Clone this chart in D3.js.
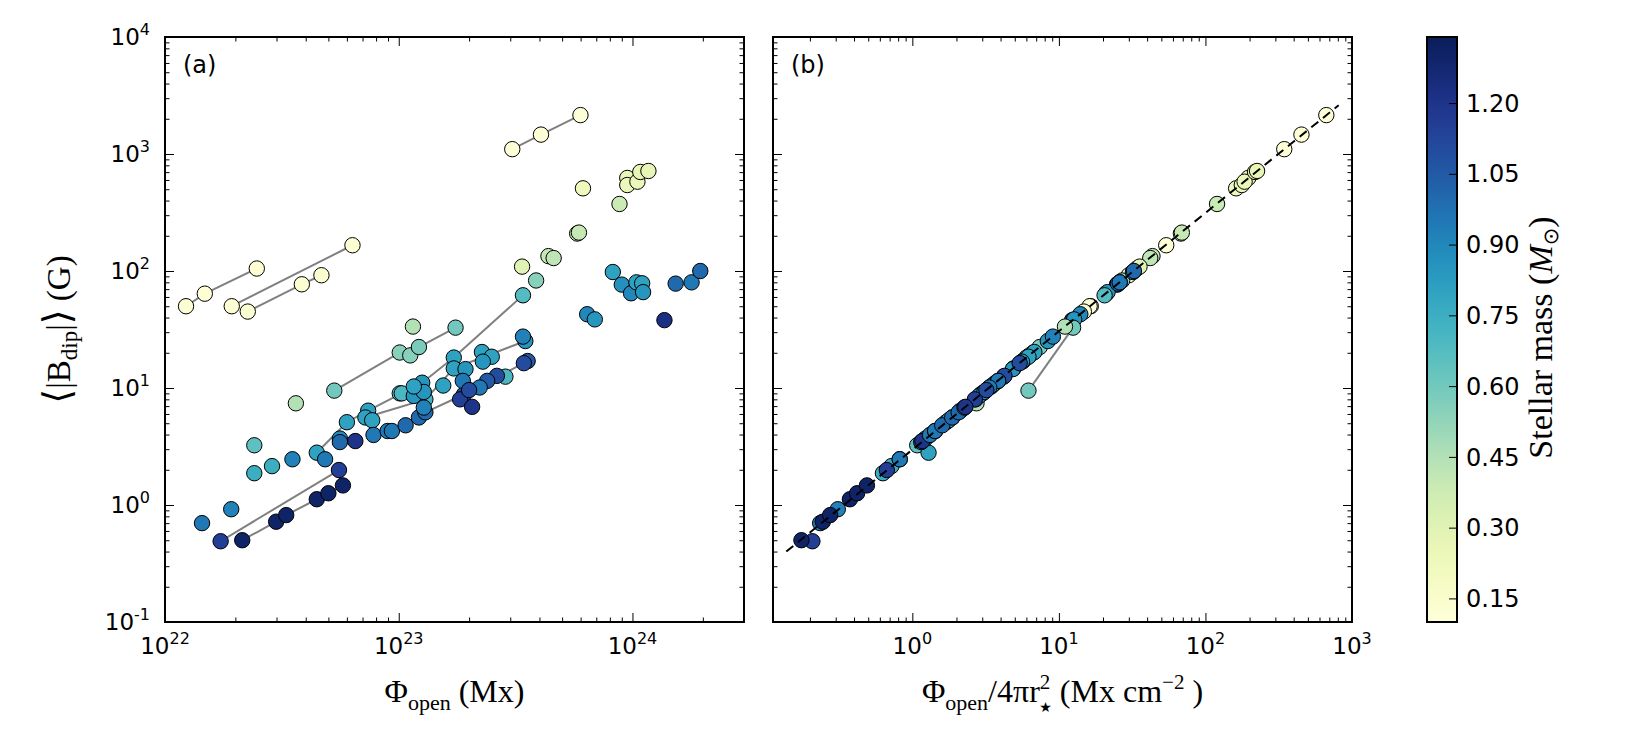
<!DOCTYPE html>
<html>
<head>
<meta charset="utf-8">
<script src="https://cdn.jsdelivr.net/npm/d3@7"></script>
<style>
  body { margin: 0; background: #fff; }
  .tick line { stroke: #000; stroke-width: 1; }
</style>
</head>
<body>
<div id="container"></div>
<script>
/* DATA */
// open flux (Mx), panel (a) x
const phiOpen = [
  1.23e22, 1.48e22, 2.47e22, 1.93e22, 6.34e22, 2.26e22, 3.85e22, 4.67e22, 3.06e23, 4.06e23,
  5.99e23, 6.14e23, 9.5e23, 9.5e23, 1.05e24, 1.08e24, 1.17e24, 8.8e23, 5.8e23, 5.9e23,
  4.37e23, 4.6e23, 3.37e23, 3.87e23, 8.24e23, 9.0e23, 9.86e23, 1.04e24, 1.1e24, 1.11e24,
  1.53e24, 1.79e24, 1.95e24, 1.37e24, 6.4e23, 6.9e23, 5.3e22, 1.01e23, 1.12e23, 1.22e23,
  1.75e23, 1.15e23, 3.63e22, 2.41e22, 2.41e22, 2.87e22, 3.51e22, 1.44e22, 1.92e22, 1.73e22,
  5.55e22, 2.14e22, 2.99e22, 3.3e22, 4.46e22, 5.0e22, 5.77e22, 4.46e22, 6.0e22, 7.4e22,
  1.26e23, 1.72e23, 3.4e23, 4.84e22, 5.6e22, 5.6e22, 6.52e22, 7.2e22, 1.3e23, 1.72e23,
  3.48e23, 7.7e22, 7.8e22, 8.96e22, 9.35e22, 1.07e23, 1.22e23, 1.3e23, 1.9e23, 3.56e23,
  1.01e23, 1.03e23, 1.16e23, 1.28e23, 1.16e23, 1.28e23, 1.55e23, 1.93e23, 2.27e23, 2.5e23,
  2.29e23, 2.86e23, 2.63e23, 2.39e23, 1.88e23, 2.22e23, 1.83e23, 2.0e23, 2.06e23, 3.4e23,
  3.43e23
]
// <|B_dip|> (G), shared y
const bDip = [
  50, 64, 105, 50, 166, 45, 77, 92, 1100, 1465,
  2150, 509, 624, 543, 580, 702, 716, 374, 209, 213,
  134, 129, 109, 83, 98, 76.5, 64.5, 80, 78.5, 66,
  78, 80, 100, 38, 42.7, 38.6, 9.5, 20.1, 19, 22.4,
  32.8, 33.5, 7.4, 3.24, 1.87, 2.15, 2.46, 0.70, 0.92, 0.49,
  1.99, 0.50, 0.72, 0.82, 1.12, 1.26, 1.47, 2.8, 5.1, 6.4,
  11.1, 18.2, 62, 2.46, 3.7, 3.45, 3.52, 5.6, 8.0, 14.7,
  25.2, 5.3, 3.97, 4.29, 4.29, 4.8, 5.6, 6.2, 8.8, 17,
  9.0, 9.0, 8.55, 9.25, 10.3, 6.8, 10.5, 14.5, 20.3, 18.5,
  16.8, 12.5, 12.7, 11.5, 11.5, 10.1, 8.0, 9.6, 6.9, 27.5,
  16.3
]
// stellar mass (Msun), colour
const stellarMass = [
  0.12, 0.12, 0.12, 0.12, 0.12, 0.13, 0.13, 0.13, 0.11, 0.11,
  0.11, 0.22, 0.26, 0.24, 0.25, 0.27, 0.27, 0.38, 0.42, 0.40,
  0.40, 0.42, 0.30, 0.55, 0.80, 0.87, 0.90, 0.80, 0.80, 0.85,
  1.00, 0.95, 1.00, 1.22, 0.90, 0.85, 0.60, 0.55, 0.55, 0.58,
  0.60, 0.45, 0.45, 0.65, 0.75, 0.75, 0.92, 0.95, 0.92, 1.15,
  1.15, 1.30, 1.30, 1.30, 1.30, 1.30, 1.30, 0.80, 0.80, 0.80,
  0.85, 0.80, 0.68, 0.95, 0.88, 1.00, 1.20, 0.80, 0.72, 0.80,
  0.85, 0.80, 0.95, 0.95, 0.95, 1.00, 1.00, 1.00, 1.10, 1.05,
  0.65, 0.70, 0.85, 0.85, 0.80, 0.92, 0.80, 0.85, 0.80, 0.80,
  0.85, 0.70, 1.10, 1.05, 0.95, 0.95, 1.15, 1.10, 1.20, 0.92,
  1.10
]
// star id for joining epochs with grey lines (0 = single)
const starGroup = [
  1, 1, 1, 2, 2, 3, 3, 3, 4, 4,
  4, 0, 0, 0, 0, 0, 0, 0, 0, 0,
  0, 0, 0, 0, 0, 0, 0, 0, 0, 0,
  0, 0, 0, 0, 0, 0, 7, 7, 7, 7,
  7, 0, 0, 0, 0, 0, 0, 0, 0, 5,
  5, 6, 6, 6, 6, 6, 6, 8, 8, 8,
  8, 8, 8, 0, 0, 0, 0, 9, 9, 9,
  9, 0, 0, 0, 0, 0, 10, 10, 10, 10,
  0, 0, 0, 0, 0, 0, 0, 0, 0, 0,
  0, 0, 0, 0, 0, 0, 0, 0, 0, 0,
  0
]
// Phi_open / 4 pi r^2 (Mx cm^-2), panel (b) x
const fluxDensity = [
  16.5, 21, 34, 16.2, 54, 14.8, 25, 30, 345, 452,
  668, 162, 196, 177, 185, 218, 225, 120, 68, 69,
  43.5, 42, 35.5, 27, 32, 25, 21, 26, 25.5, 21.5,
  25.3, 26, 32.5, 12.3, 14, 12.7, 6.2, 6.7, 6.3, 7.4,
  12.5, 11, 2.74, 1.08, 0.63, 0.72, 0.82, 0.235, 0.31, 0.208,
  0.67, 0.175, 0.245, 0.275, 0.375, 0.42, 0.49, 1.29, 1.7, 2.13,
  3.7, 6.0, 20.5, 0.82, 1.23, 1.15, 1.17, 1.87, 2.7, 4.9,
  8.4, 1.77, 1.32, 1.43, 1.43, 1.6, 1.87, 2.07, 2.93, 5.7,
  3.0, 3.0, 2.85, 3.1, 3.45, 2.27, 3.5, 4.85, 6.8, 6.2,
  5.6, 4.2, 4.25, 3.85, 3.85, 3.35, 2.67, 3.2, 2.3, 9.1,
  5.4
]
// grey link visible in panel (b)
const bLinks = [[36, 40]]
// dashed relation in panel (b): end points
const fitX = [0.138, 811]
const fitY = [0.40, 2610]

const yTickVals = [0.1, 1, 10, 100, 1000, 10000]
const xTickValsA = [1e22, 1e23, 1e24]
const xTickValsB = [1, 10, 100, 1000]
const massTicks = [0.15, 0.30, 0.45, 0.60, 0.75, 0.90, 1.05, 1.20]

/* CONSTANTS */
const width = 1650, height = 750
const plotTop = 37, plotBottom = 622
const aLeft = 165, aRight = 744
const bLeft = 773, bRight = 1352
const cbLeft = 1427, cbRight = 1457
const radius = 7.7
const tickFont = "'DejaVu Sans', sans-serif"
const serif = "'Liberation Serif', 'DejaVu Serif', serif"

const points = phiOpen.map((p, i) => ({
  i, phi: p, b: bDip[i], m: stellarMass[i], g: starGroup[i], fx: fluxDensity[i]
}))

/* SCALES */
const xA = d3.scaleLog().domain([1e22, 3e24]).range([aLeft, aRight])
const xB = d3.scaleLog().domain([0.112, 1000]).range([bLeft, bRight])
const y = d3.scaleLog().domain([0.1, 1e4]).range([plotBottom, plotTop])
const massY = d3.scaleLinear().domain([0.1, 1.34]).range([plotBottom, plotTop])
const color = d3.scaleSequential(d3.interpolateYlGnBu).domain([0.1, 1.34])

const svg = d3.select("#container").append("svg")
  .attr("width", width).attr("height", height)
  .style("font-family", tickFont)

function minorTicks(domain) {
  const out = []
  const lo = Math.floor(Math.log10(domain[0])), hi = Math.ceil(Math.log10(domain[1]))
  for (let e = lo; e < hi; e++) for (let k = 2; k < 10; k++) {
    const v = k * Math.pow(10, e)
    if (v >= domain[0] && v <= domain[1]) out.push(v)
  }
  return out
}

// ticks inward on all four sides, then a frame
function drawFrame(x, xMajor) {
  const g = svg.append("g")
  const sides = [
    [d3.axisBottom, x, `translate(0,${plotBottom})`, xMajor],
    [d3.axisTop, x, `translate(0,${plotTop})`, xMajor],
    [d3.axisLeft, y, `translate(${x.range()[0]},0)`, yTickVals],
    [d3.axisRight, y, `translate(${x.range()[1]},0)`, yTickVals]
  ]
  sides.forEach(([axisFn, sc, tr, major]) => {
    g.append("g").attr("transform", tr)
      .call(axisFn(sc).tickValues(major).tickSize(-9).tickSizeOuter(0).tickFormat(""))
      .call(a => a.select(".domain").remove())
    g.append("g").attr("transform", tr)
      .call(axisFn(sc).tickValues(minorTicks(sc.domain())).tickSize(-4.5).tickSizeOuter(0).tickFormat(""))
      .call(a => a.select(".domain").remove())
  })
  g.append("rect")
    .attr("x", x.range()[0]).attr("y", plotTop)
    .attr("width", x.range()[1] - x.range()[0]).attr("height", plotBottom - plotTop)
    .attr("fill", "none").attr("stroke", "#000").attr("stroke-width", 2)
}

function powLabel(sel, v) {
  sel.append("tspan").text("10")
  sel.append("tspan").attr("dy", -10).attr("font-size", 16).text(Math.round(Math.log10(v)))
}

function xLabels(x, vals) {
  vals.forEach(v => {
    svg.append("text")
      .attr("x", x(v)).attr("y", plotBottom + 32)
      .attr("text-anchor", "middle").attr("font-size", 23)
      .call(t => powLabel(t, v))
  })
}

/* PANEL (a) */
const lineGen = d3.line().x(d => d.x).y(d => d.y)
const groups = d3.groups(points.filter(d => d.g > 0), d => d.g)

const panelA = svg.append("g")
panelA.selectAll(".link")
  .data(groups)
  .join("path")
  .attr("class", "link")
  .attr("fill", "none").attr("stroke", "#808080").attr("stroke-width", 2)
  .attr("d", ([, pts]) => lineGen(pts.slice().sort((a, b) => a.phi - b.phi)
    .map(d => ({ x: xA(d.phi), y: y(d.b) }))))

panelA.selectAll("circle")
  .data(points)
  .join("circle")
  .attr("cx", d => xA(d.phi)).attr("cy", d => y(d.b)).attr("r", radius)
  .attr("fill", d => color(d.m)).attr("stroke", "#000").attr("stroke-width", 1)

drawFrame(xA, xTickValsA)
xLabels(xA, xTickValsA)
yTickVals.forEach(v => {
  svg.append("text")
    .attr("x", aLeft - 15).attr("y", y(v) + 8)
    .attr("text-anchor", "end").attr("font-size", 23)
    .call(t => powLabel(t, v))
})

svg.append("text").attr("x", aLeft + 18).attr("y", plotTop + 36)
  .attr("font-size", 24).text("(a)")

/* PANEL (b) */
const panelB = svg.append("g")
panelB.selectAll(".link")
  .data(bLinks)
  .join("path")
  .attr("class", "link")
  .attr("fill", "none").attr("stroke", "#808080").attr("stroke-width", 2)
  .attr("d", pair => lineGen(pair.map(k => ({ x: xB(points[k].fx), y: y(points[k].b) }))))

panelB.selectAll("circle")
  .data(points)
  .join("circle")
  .attr("cx", d => xB(d.fx)).attr("cy", d => y(d.b)).attr("r", radius)
  .attr("fill", d => color(d.m)).attr("stroke", "#000").attr("stroke-width", 1)

panelB.append("path")
  .attr("fill", "none").attr("stroke", "#000").attr("stroke-width", 2)
  .attr("stroke-dasharray", "9,6")
  .attr("d", lineGen(fitX.map((v, k) => ({ x: xB(v), y: y(fitY[k]) }))))

drawFrame(xB, xTickValsB)
xLabels(xB, xTickValsB)

svg.append("text").attr("x", bLeft + 18).attr("y", plotTop + 36)
  .attr("font-size", 24).text("(b)")

/* AXIS TITLES */
const yTitle = svg.append("text")
  .attr("transform", `translate(70,${(plotTop + plotBottom) / 2}) rotate(-90)`)
  .attr("text-anchor", "middle").attr("font-family", serif).attr("font-size", 33)
yTitle.append("tspan").attr("font-size", 38).text("⟨")
yTitle.append("tspan").text("|B")
yTitle.append("tspan").attr("dy", 7).attr("font-size", 23).text("dip")
yTitle.append("tspan").attr("dy", -7).text("|")
yTitle.append("tspan").attr("font-size", 38).text("⟩")
yTitle.append("tspan").text(" (G)")

const xTitleA = svg.append("text")
  .attr("x", (aLeft + aRight) / 2).attr("y", 702)
  .attr("text-anchor", "middle").attr("font-family", serif).attr("font-size", 32)
xTitleA.append("tspan").text("Φ")
xTitleA.append("tspan").attr("dy", 8).attr("font-size", 22).text("open")
xTitleA.append("tspan").attr("dy", -8).text(" (Mx)")

const xTitleB = svg.append("text")
  .attr("x", (bLeft + bRight) / 2).attr("y", 702)
  .attr("text-anchor", "middle").attr("font-family", serif).attr("font-size", 32)
xTitleB.append("tspan").text("Φ")
xTitleB.append("tspan").attr("dy", 8).attr("font-size", 22).text("open")
xTitleB.append("tspan").attr("dy", -8).text("/4πr")
xTitleB.append("tspan").attr("dy", -13).attr("font-size", 21).text("2")
xTitleB.append("tspan").attr("dx", -11).attr("dy", 23).attr("font-size", 14)
  .attr("font-family", tickFont).text("★")
xTitleB.append("tspan").attr("dy", -10).text(" (Mx cm")
xTitleB.append("tspan").attr("dy", -13).attr("font-size", 21).text("−2")
xTitleB.append("tspan").attr("dy", 13).text(" )")

/* COLORBAR */
const grad = svg.append("defs").append("linearGradient")
  .attr("id", "cbar").attr("x1", 0).attr("y1", 1).attr("x2", 0).attr("y2", 0)
grad.selectAll("stop")
  .data(d3.range(0, 1.0001, 0.02))
  .join("stop")
  .attr("offset", t => t)
  .attr("stop-color", t => color(0.1 + t * 1.24))

svg.append("rect")
  .attr("x", cbLeft).attr("y", plotTop)
  .attr("width", cbRight - cbLeft).attr("height", plotBottom - plotTop)
  .attr("fill", "url(#cbar)").attr("stroke", "#000").attr("stroke-width", 2)

svg.append("g").attr("transform", `translate(${cbRight},0)`)
  .call(d3.axisRight(massY).tickValues(massTicks).tickSize(-8).tickSizeOuter(0).tickFormat(""))
  .call(a => a.select(".domain").remove())

massTicks.forEach(v => {
  svg.append("text")
    .attr("x", cbRight + 9).attr("y", massY(v)).attr("dy", "0.36em")
    .attr("font-size", 24).text(d3.format(".2f")(v))
})

const cTitle = svg.append("text")
  .attr("transform", `translate(1552,${(plotTop + plotBottom) / 2 + 8}) rotate(-90)`)
  .attr("text-anchor", "middle").attr("font-family", serif).attr("font-size", 34)
cTitle.append("tspan").text("Stellar mass (")
cTitle.append("tspan").attr("font-style", "italic").text("M")
cTitle.append("tspan").attr("dy", 6).attr("font-size", 21).attr("font-family", tickFont).text("⊙")
cTitle.append("tspan").attr("dy", -6).text(")")
</script>
</body>
</html>
